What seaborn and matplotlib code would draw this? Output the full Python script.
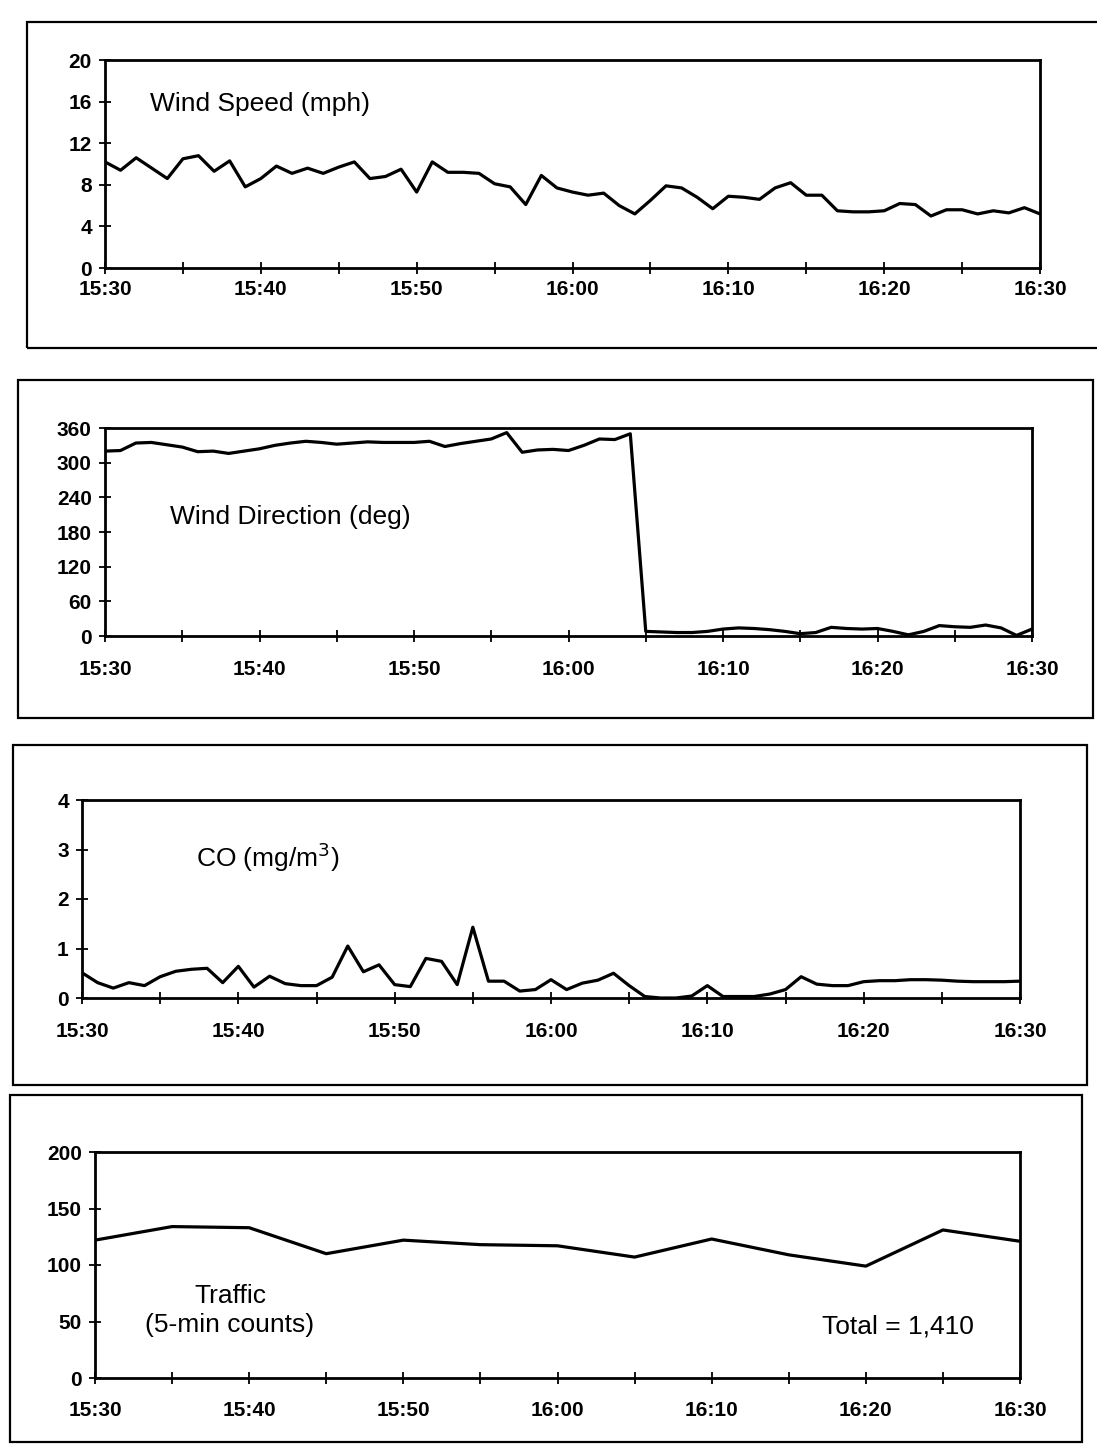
import numpy as np
import seaborn as sns
import matplotlib.pyplot as plt
from matplotlib.patches import Rectangle
from matplotlib.ticker import MultipleLocator

# minutes after 15:30, one reading per minute
minutes = list(range(61))
tick_labels = ["15:30", "15:40", "15:50", "16:00", "16:10", "16:20", "16:30"]

wind_speed = [10.2, 9.4, 10.6, 9.6, 8.6, 10.5, 10.8, 9.3, 10.3, 7.8,
              8.6, 9.8, 9.1, 9.6, 9.1, 9.7, 10.2, 8.6, 8.8, 9.5,
              7.3, 10.2, 9.2, 9.2, 9.1, 8.1, 7.8, 6.1, 8.9, 7.7,
              7.3, 7.0, 7.2, 6.0, 5.2, 6.5, 7.9, 7.7, 6.8, 5.7,
              6.9, 6.8, 6.6, 7.7, 8.2, 7.0, 7.0, 5.5, 5.4, 5.4,
              5.5, 6.2, 6.1, 5.0, 5.6, 5.6, 5.2, 5.5, 5.3, 5.8, 5.2]

wind_dir = [320, 321, 334, 335, 331, 327, 319, 320, 316, 320,
            324, 330, 334, 337, 335, 332, 334, 336, 335, 335,
            335, 337, 328, 333, 337, 341, 352, 318, 322, 323,
            321, 330, 341, 340, 350, 8, 7, 6, 6, 8,
            12, 14, 13, 11, 8, 4, 6, 15, 13, 12,
            13, 8, 2, 8, 18, 16, 15, 19, 14, 1, 12]

co = [0.51, 0.31, 0.20, 0.31, 0.25, 0.43, 0.54, 0.58, 0.60, 0.31,
      0.64, 0.22, 0.44, 0.29, 0.25, 0.25, 0.42, 1.05, 0.53, 0.67,
      0.27, 0.23, 0.80, 0.74, 0.27, 1.43, 0.34, 0.34, 0.14, 0.17,
      0.37, 0.17, 0.30, 0.36, 0.50, 0.25, 0.03, 0.00, 0.00, 0.04,
      0.25, 0.03, 0.03, 0.03, 0.08, 0.17, 0.43, 0.28, 0.25, 0.25,
      0.33, 0.35, 0.35, 0.37, 0.37, 0.36, 0.34, 0.33, 0.33, 0.33, 0.34]

# 5-minute traffic counts
traffic_minutes = [0, 5, 10, 15, 20, 25, 30, 35, 40, 45, 50, 55, 60]
traffic = [122, 134, 133, 110, 122, 118, 117, 107, 123, 109, 99, 131, 121]

sns.set_style('white')
plt.rcParams['font.family'] = ['Liberation Sans', 'DejaVu Sans']
plt.rcParams['text.color'] = 'black'

W, H = 1097, 1452
fig = plt.figure(figsize=(W / 100, H / 100), dpi=100)


def px_axes(l, t, r, b):
    return fig.add_axes([l / W, 1 - b / H, (r - l) / W, (b - t) / H])


def px_box(l, t, r, b):
    fig.add_artist(Rectangle((l / W, 1 - b / H), (r - l) / W, (b - t) / H,
                             transform=fig.transFigure, fill=False,
                             lw=1.6, ec='black'))


def style(ax, ymax, ystep, xpad):
    ax.set_xlim(0, 60)
    ax.set_ylim(0, ymax)
    ax.xaxis.set_major_locator(MultipleLocator(10))
    ax.xaxis.set_minor_locator(MultipleLocator(5))
    ax.yaxis.set_major_locator(MultipleLocator(ystep))
    ax.set_xticks(range(0, 61, 10))
    ax.set_xticklabels(tick_labels)
    ax.tick_params(which='both', direction='inout', length=9, width=1.3,
                   color='black', bottom=True, left=True)
    ax.tick_params(axis='x', pad=xpad, labelsize=15, labelcolor='black')
    ax.tick_params(axis='y', pad=5, labelsize=15, labelcolor='black')
    for lab in ax.get_xticklabels() + ax.get_yticklabels():
        lab.set_fontweight('bold')
    for sp in ax.spines.values():
        sp.set_visible(True)
        sp.set_color('black')
        sp.set_linewidth(2.0)
    ax.set_xlabel('')
    ax.set_ylabel('')


# outer frames
px_box(27, 22, 1110, 348)
px_box(18, 380, 1093, 718)
px_box(13, 745, 1087, 1085)
px_box(10, 1095, 1082, 1442)

# Wind speed
ax1 = px_axes(105, 60, 1040, 268)
sns.lineplot(x=minutes, y=wind_speed, ax=ax1, color='black', linewidth=2.3)
style(ax1, 20, 4, 4)
ax1.text(0.048, 0.79, 'Wind Speed (mph)', transform=ax1.transAxes,
         fontsize=19, va='center', ha='left')

# Wind direction
ax2 = px_axes(105, 428, 1032, 636)
sns.lineplot(x=minutes, y=wind_dir, ax=ax2, color='black', linewidth=2.3)
style(ax2, 360, 60, 13)
ax2.text(0.07, 0.57, 'Wind Direction (deg)', transform=ax2.transAxes,
         fontsize=19, va='center', ha='left')

# CO
ax3 = px_axes(82, 800, 1020, 998)
sns.lineplot(x=minutes, y=co, ax=ax3, color='black', linewidth=2.3)
style(ax3, 4, 1, 13)
ax3.text(0.122, 0.71, 'CO (mg/m$^3$)', transform=ax3.transAxes,
         fontsize=19, va='center', ha='left')

# Traffic
ax4 = px_axes(95, 1152, 1020, 1378)
sns.lineplot(x=traffic_minutes, y=traffic, ax=ax4, color='black', linewidth=2.3)
style(ax4, 200, 50, 12)
ax4.text(0.146, 0.30, 'Traffic\n(5-min counts)', transform=ax4.transAxes,
         fontsize=19, va='center', ha='center', linespacing=1.25)
ax4.text(0.786, 0.23, 'Total = 1,410', transform=ax4.transAxes,
         fontsize=19, va='center', ha='left')

plt.savefig('out.png', dpi=100, facecolor='white')
